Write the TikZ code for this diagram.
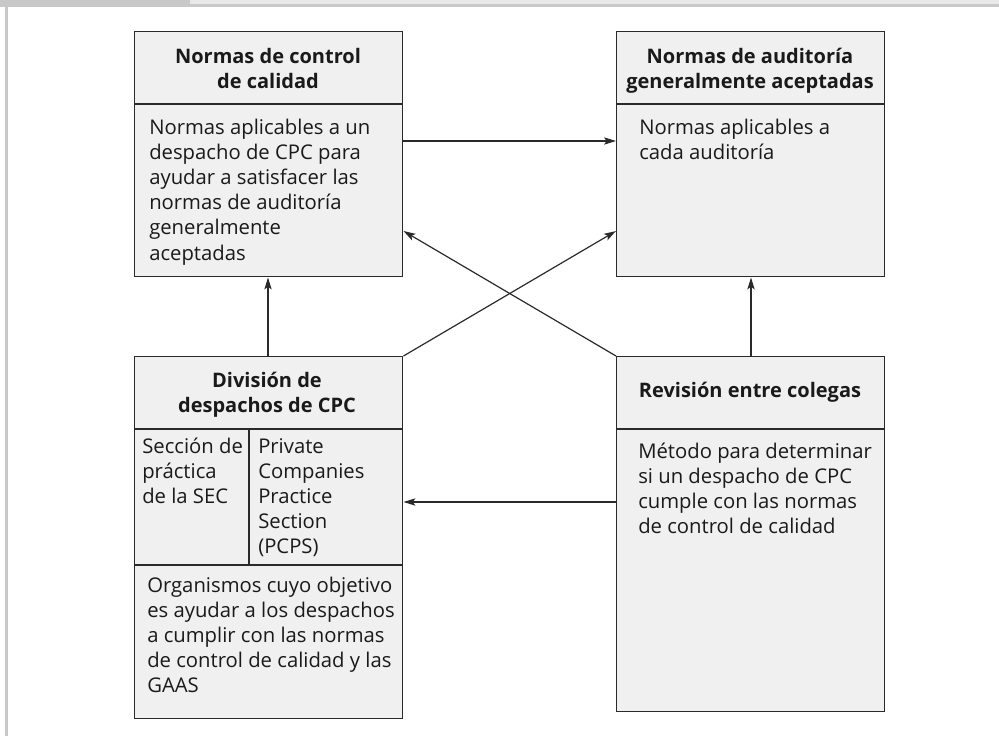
\documentclass[tikz,border=0pt]{standalone}
\usepackage{fontspec}
\setmainfont{Open Sans}
\usetikzlibrary{arrows.meta,calc}
\definecolor{boxfill}{HTML}{F0F0F0}
\definecolor{edge}{HTML}{2A2A2A}
\definecolor{barA}{HTML}{C8C8C8}
\definecolor{barB}{HTML}{E8E8E8}
\definecolor{ink}{HTML}{1A1A1A}
\newcommand{\ltext}[1]{\parbox[t]{200pt}{\raggedright #1}}
\newcommand{\ctext}[1]{\parbox[t]{200pt}{\centering #1}}
\tikzset{
  panel/.style={draw=edge, fill=boxfill, line width=1.1pt, anchor=north west, inner sep=0pt},
  divider/.style={draw=edge, line width=1.1pt},
  body/.style={anchor=base west, inner sep=0pt, text=ink, font=\fontsize{15.2pt}{18.9pt}\selectfont},
  head/.style={anchor=base, inner sep=0pt, text=ink, font=\fontsize{15pt}{18.9pt}\selectfont\bfseries},
  arr/.style={draw=edge, line width=0.9pt, -{Stealth[length=9pt,width=5.5pt,inset=2pt]}},
}
\begin{document}
\begin{tikzpicture}[x=0.75pt,y=-0.75pt]
\useasboundingbox (0,0) rectangle (999,736);
% frame
\fill[barB] (190,0) rectangle (999,4);
\fill[barA] (190,4) rectangle (999,7);
\fill[barA] (0,0) rectangle (190,7);
\fill[barA] (5,7) rectangle (8,736);
% boxes
\node[panel, minimum width=201pt, minimum height=183.75pt] (A) at (134,31) {};
\node[panel, minimum width=201pt, minimum height=183.75pt] (B) at (616,31) {};
\node[panel, minimum width=201pt, minimum height=271.5pt] (C) at (134,356) {};
\node[panel, minimum width=201pt, minimum height=266.25pt] (D) at (616,356) {};
% dividers
\coordinate (yh) at (0,104);
\coordinate (yc1) at (0,429);
\coordinate (yc2) at (0,565);
\coordinate (xc) at (249,0);
\draw[divider] (A.west |- yh) -- (A.east |- yh);
\draw[divider] (B.west |- yh) -- (B.east |- yh);
\draw[divider] (C.west |- yc1) -- (C.east |- yc1);
\draw[divider] (C.west |- yc2) -- (C.east |- yc2);
\draw[divider] (xc |- yc1) -- (xc |- yc2);
\draw[divider] (D.west |- yc1) -- (D.east |- yc1);
% texts
\node[head] (At) at (268,63) {\ctext{Normas de control\\de calidad}};
\node[body] (Ab) at (149,134) {\ltext{Normas aplicables a un\\despacho de CPC para\\ayudar a satisfacer las\\normas de auditoría\\generalmente\\aceptadas}};
\node[head] (Bt) at (750,63) {\ctext{Normas de auditoría\\generalmente aceptadas}};
\node[body] (Bb) at (639,134) {\ltext{Normas aplicables a\\cada auditoría}};
\node[head] (Ct) at (267,387) {\ctext{División de\\despachos de CPC}};
\node[body] (Cl) at (142,453) {\ltext{Sección de\\práctica\\de la SEC}};
\node[body] (Cr) at (258,453) {\ltext{Private\\Companies\\Practice\\Section\\(PCPS)}};
\node[body] (Cb) at (147,592) {\ltext{Organismos cuyo objetivo\\es ayudar a los despachos\\a cumplir con las normas\\de control de calidad y las\\GAAS}};
\node[head] (Dt) at (750,397) {\ctext{Revisión entre colegas}};
\node[body] (Db) at (638,458) {\ltext{Método para determinar\\si un despacho de CPC\\cumple con las normas\\de control de calidad}};
% connectors
\coordinate (y1) at (0,141);
\coordinate (y2) at (0,231);
\coordinate (y3) at (0,502);
\coordinate (xa) at (268,0);
\coordinate (xb) at (751,0);
\draw[arr] (A.east |- y1) -- (B.west |- y1);
\draw[arr] (D.north west) -- (A.east |- y2);
\draw[arr] (C.north east) -- (B.west |- y2);
\draw[arr] (xa |- C.north) -- (xa |- A.south);
\draw[arr] (xb |- D.north) -- (xb |- B.south);
\draw[arr] (D.west |- y3) -- (C.east |- y3);
\end{tikzpicture}
\end{document}
